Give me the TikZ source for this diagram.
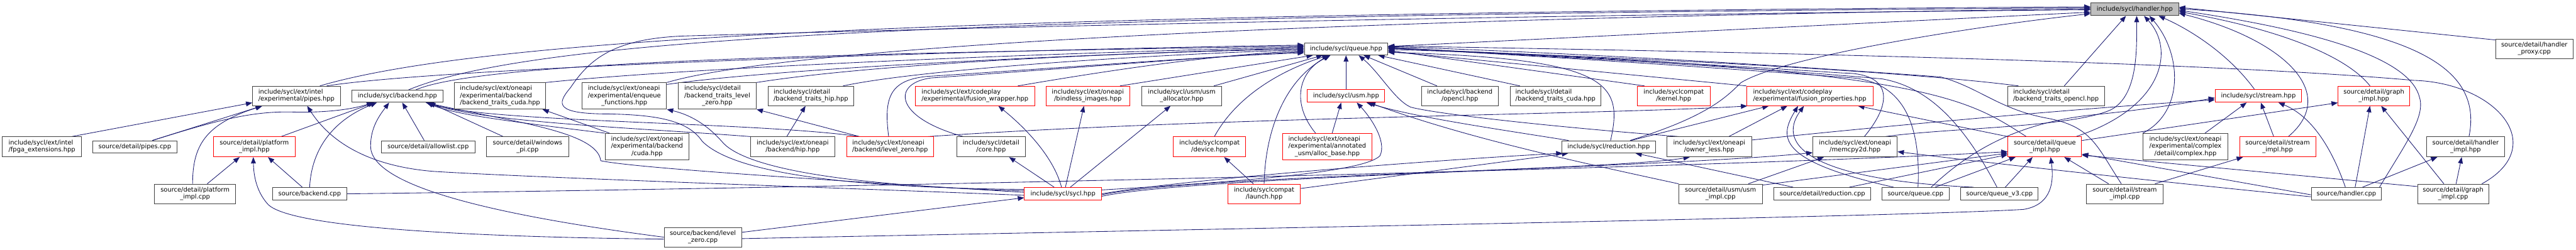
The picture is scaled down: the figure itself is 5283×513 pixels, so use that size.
\documentclass[tikz,border=0pt]{standalone}
\usepackage{fontspec}
\setmainfont{DejaVu Sans}
\usetikzlibrary{arrows.meta}
\definecolor{edgeblue}{HTML}{191970}
\definecolor{boxgray}{HTML}{BFBFBF}
\definecolor{boxline}{HTML}{404040}
\newcommand{\dxfont}{\fontsize{12.8}{15}\selectfont}
\newcommand{\twol}[2]{\begin{tabular}{@{}l@{}}#1\\\multicolumn{1}{@{}c@{}}{#2}\end{tabular}}
\newcommand{\threel}[3]{\begin{tabular}{@{}l@{}}#1\\#2\\\multicolumn{1}{@{}c@{}}{#3}\end{tabular}}
\pgfdeclarelayer{bglayer}
\pgfdeclarelayer{edgelayer}
\pgfsetlayers{bglayer,edgelayer,main}
\tikzset{
  nbox/.style={draw=boxline, line width=1.2pt, fill=white, inner sep=0pt, font=\dxfont, text=black},
  rbox/.style={nbox, draw=red},
  gbox/.style={nbox, fill=boxgray},
  wh/.style 2 args={minimum width=#1pt, minimum height=#2pt},
  e/.style={draw=edgeblue, line width=1.1pt, -{Triangle[length=13pt,width=10pt]}},
}
\begin{document}
\begin{tikzpicture}[x=1pt,y=-1pt]
\begin{pgfonlayer}{bglayer}
\fill[white] (0,0) rectangle (5283,513);
\end{pgfonlayer}
\useasboundingbox (0,0) rectangle (5283,513);
% top
\node[gbox, wh={180}{26}] (H) at (4378,19) {include/sycl/handler.hpp};
\node[nbox, wh={171}{25}] (Q) at (2760.5,100.5) {include/sycl/queue.hpp};
\node[nbox, wh={159}{40}] (hproxy) at (5197.5,100) {\twol{source/detail/handler}{\_proxy.cpp}};
% row 2
\node[nbox, wh={180}{40}] (pipes) at (608,197) {\twol{include/sycl/ext/intel}{/experimental/pipes.hpp}};
\node[nbox, wh={186}{25}] (backend) at (815,197.5) {include/sycl/backend.hpp};
\node[nbox, wh={187}{54}] (btcudaext) at (1025.5,197) {\threel{include/sycl/ext/oneapi}{/experimental/backend}{/backend\_traits\_cuda.hpp}};
\node[nbox, wh={173}{54}] (enqueue) at (1280.5,197) {\threel{include/sycl/ext/oneapi}{/experimental/enqueue}{\_functions.hpp}};
\node[nbox, wh={160}{54}] (btlz) at (1471,197) {\threel{include/sycl/detail}{/backend\_traits\_level}{\_zero.hpp}};
\node[nbox, wh={176}{40}] (bthip) at (1663,197) {\twol{include/sycl/detail}{/backend\_traits\_hip.hpp}};
\node[rbox, wh={245}{40}] (fwrap) at (1999.5,197) {\twol{include/sycl/ext/codeplay}{/experimental/fusion\_wrapper.hpp}};
\node[rbox, wh={172}{40}] (bindless) at (2231,197) {\twol{include/sycl/ext/oneapi}{/bindless\_images.hpp}};
\node[nbox, wh={163}{40}] (usmalloc) at (2423.5,197) {\twol{include/sycl/usm/usm}{\_allocator.hpp}};
\node[rbox, wh={159}{26}] (usm) at (2760.5,197) {include/sycl/usm.hpp};
\node[nbox, wh={158}{40}] (opencl) at (2994,197) {\twol{include/sycl/backend}{/opencl.hpp}};
\node[nbox, wh={186}{40}] (btcuda) at (3190,197) {\twol{include/sycl/detail}{/backend\_traits\_cuda.hpp}};
\node[rbox, wh={149}{40}] (kernel) at (3432.5,197) {\twol{include/syclcompat}{/kernel.hpp}};
\node[rbox, wh={259}{40}] (fprops) at (3711.5,197) {\twol{include/sycl/ext/codeplay}{/experimental/fusion\_properties.hpp}};
\node[nbox, wh={199}{40}] (btopencl) at (4216.5,197) {\twol{include/sycl/detail}{/backend\_traits\_opencl.hpp}};
\node[rbox, wh={177}{26}] (stream) at (4631.5,197) {include/sycl/stream.hpp};
\node[rbox, wh={147}{40}] (gimplh) at (4868.5,197) {\twol{source/detail/graph}{\_impl.hpp}};
% row 3
\node[nbox, wh={162}{41}] (fpga) at (86,301.5) {\twol{include/sycl/ext/intel}{/fpga\_extensions.hpp}};
\node[nbox, wh={173}{25}] (pipescpp) at (276.5,301.5) {source/detail/pipes.cpp};
\node[rbox, wh={167}{41}] (pimplh) at (521.5,301.5) {\twol{source/detail/platform}{\_impl.hpp}};
\node[nbox, wh={192}{25}] (allowlist) at (878,301.5) {source/detail/allowlist.cpp};
\node[nbox, wh={168}{41}] (winpi) at (1082,301.5) {\twol{source/detail/windows}{\_pi.cpp}};
\node[nbox, wh={172}{54}] (cuda) at (1327,301) {\threel{include/sycl/ext/oneapi}{/experimental/backend}{/cuda.hpp}};
\node[nbox, wh={173}{41}] (hip) at (1625.5,301.5) {\twol{include/sycl/ext/oneapi}{/backend/hip.hpp}};
\node[rbox, wh={179}{41}] (lzh) at (1825.5,301.5) {\twol{include/sycl/ext/oneapi}{/backend/level\_zero.hpp}};
\node[nbox, wh={141}{41}] (core) at (2032.5,301.5) {\twol{include/sycl/detail}{/core.hpp}};
\node[rbox, wh={149}{41}] (device) at (2480.5,301.5) {\twol{include/syclcompat}{/device.hpp}};
\node[rbox, wh={182}{54}] (allocbase) at (2722,301) {\threel{include/sycl/ext/oneapi}{/experimental/annotated}{\_usm/alloc\_base.hpp}};
\node[nbox, wh={192}{25}] (reduction) at (3299,301.5) {include/sycl/reduction.hpp};
\node[nbox, wh={173}{41}] (ownerless) at (3505.5,301.5) {\twol{include/sycl/ext/oneapi}{/owner\_less.hpp}};
\node[nbox, wh={173}{41}] (memcpy2d) at (3804.5,301.5) {\twol{include/sycl/ext/oneapi}{/memcpy2d.hpp}};
\node[rbox, wh={151}{41}] (qimpl) at (4193.5,301.5) {\twol{source/detail/queue}{\_impl.hpp}};
\node[nbox, wh={174}{54}] (complex) at (4482,301) {\threel{include/sycl/ext/oneapi}{/experimental/complex}{/detail/complex.hpp}};
\node[rbox, wh={156}{41}] (simplh) at (4671,301.5) {\twol{source/detail/stream}{\_impl.hpp}};
\node[nbox, wh={159}{41}] (himplh) at (5056.5,301.5) {\twol{source/detail/handler}{\_impl.hpp}};
% row 4
\node[nbox, wh={166}{40}] (pimplcpp) at (400,398) {\twol{source/detail/platform}{\_impl.cpp}};
\node[nbox, wh={152}{26}] (backendcpp) at (635,398) {source/backend.cpp};
\node[rbox, wh={158}{26}] (syclh) at (2180,398) {include/sycl/sycl.hpp};
\node[rbox, wh={149}{40}] (launch) at (2592.5,398) {\twol{include/syclcompat}{/launch.hpp}};
\node[nbox, wh={171}{40}] (usmimpl) at (3528.5,398) {\twol{source/detail/usm/usm}{\_impl.cpp}};
\node[nbox, wh={199}{26}] (redcpp) at (3737.5,398) {source/detail/reduction.cpp};
\node[nbox, wh={137}{26}] (queuecpp) at (3928.5,398) {source/queue.cpp};
\node[nbox, wh={159}{26}] (qv3) at (4100.5,398) {source/queue\_v3.cpp};
\node[nbox, wh={157}{40}] (simplcpp) at (4357.5,398) {\twol{source/detail/stream}{\_impl.cpp}};
\node[nbox, wh={144}{26}] (handlercpp) at (4812,398) {source/handler.cpp};
\node[nbox, wh={146}{40}] (gimplcpp) at (5031,398) {\twol{source/detail/graph}{\_impl.cpp}};
\node[nbox, wh={159}{40}] (lzcpp) at (1441.5,487) {\twol{source/backend/level}{\_zero.cpp}};

\begin{pgfonlayer}{edgelayer}
% ---- into handler.hpp
\draw[e] ([yshift=5pt]Q.east) -- ([yshift=-6pt]H.west);
\draw[e] ([xshift=48pt]pipes.north) .. controls (1000,75) and (2000,28) .. ([yshift=5pt]H.west);
\draw[e] ([xshift=23pt]backend.north) .. controls (1100,75) and (2000,32) .. ([yshift=3pt]H.west);
\draw[e] (enqueue.north east) .. controls (1600,100) and (2600,40) .. ([yshift=1pt]H.west);
\draw[e] ([yshift=9pt]syclh.west) .. controls (1700,385) and (1500,350) .. (1440,290) .. controls (1410,245) and (1340,236) .. (1250,234) .. controls (1140,234) and (1140,215) .. (1170,180) .. controls (1210,120) and (1260,80) .. (1400,74) .. controls (2500,42) and (3600,26) .. ([yshift=-1pt]H.west);
\draw[e] ([xshift=44pt]reduction.north) .. controls (3500,240) and (3540,200) .. (3570,170) .. controls (3650,120) and (4000,60) .. ([yshift=-9pt]H.west);
\draw[e] ([xshift=62pt]memcpy2d.north) .. controls (4000,262) and (4250,262) .. (4330,225) .. controls (4385,195) and (4382,100) .. ([xshift=4pt]H.south);
\draw[e] ([xshift=17pt]btopencl.north) -- ([xshift=-18pt]H.south);
\draw[e] ([xshift=64pt]qimpl.north) .. controls (4440,220) and (4460,100) .. ([xshift=19pt]H.south);
\draw[e] (complex.north west) .. controls (4480,230) and (4475,110) .. ([xshift=30pt]H.south);
\draw[e] ([xshift=-8pt]stream.north) .. controls (4570,110) and (4490,60) .. ([xshift=49pt]H.south);
\draw[e] ([xshift=22pt]simplh.north) .. controls (4800,190) and (4680,80) .. ([yshift=-8pt]H.east);
\draw[e] ([xshift=-8pt]gimplh.north) .. controls (4800,100) and (4620,50) .. ([yshift=-5pt]H.east);
\draw[e] ([xshift=68pt]handlercpp.north) .. controls (4930,300) and (4975,240) .. (4962,200) .. controls (4945,130) and (4800,70) .. ([yshift=-2pt]H.east);
\draw[e] ([xshift=7pt]himplh.north) .. controls (5090,150) and (4980,50) .. ([yshift=1pt]H.east);
\draw[e] ([yshift=18pt]hproxy.west) -- ([yshift=4pt]H.east);
% ---- into queue.hpp
\draw[e] ([xshift=62pt]pipes.north) .. controls (900,140) and (1900,105) .. ([yshift=8pt]Q.west);
\draw[e] ([xshift=38pt]backend.north) .. controls (1000,120) and (1900,108) .. ([yshift=6pt]Q.west);
\draw[e] (btcudaext.north east) .. controls (1400,140) and (2100,110) .. ([yshift=4pt]Q.west);
\draw[e] ([yshift=-4pt]enqueue.north east) .. controls (1600,140) and (2200,112) .. ([yshift=2pt]Q.west);
\draw[e] (btlz.north east) .. controls (1800,130) and (2300,108) .. (Q.west);
\draw[e] ([xshift=66pt]bthip.north) .. controls (1900,140) and (2400,110) .. ([yshift=-2pt]Q.west);
\draw[e] ([xshift=88pt]fwrap.north) .. controls (2300,140) and (2500,112) .. ([yshift=-4pt]Q.west);
\draw[e] ([xshift=-57pt]core.north) .. controls (1830,240) and (1830,170) .. (1910,160) .. controls (2200,140) and (2500,115) .. ([yshift=-6pt]Q.west);
\draw[e] ([xshift=-3pt]lzh.north) .. controls (1812,200) and (1825,165) .. (1900,157) .. controls (2200,138) and (2500,114) .. ([yshift=-8pt]Q.west);
\draw[e] ([xshift=66pt]bindless.north) -- ([xshift=-68pt]Q.south);
\draw[e] ([xshift=66pt]usmalloc.north) -- ([xshift=-48pt]Q.south);
\draw[e] (usm) -- (Q);
\draw[e] ([xshift=-24pt]allocbase.north) .. controls (2650,215) and (2660,150) .. ([xshift=-34pt]Q.south);
\draw[e] ([xshift=10pt]device.north) .. controls (2540,190) and (2640,140) .. ([xshift=-36pt]Q.south);
\draw[e] (launch.north) .. controls (2595,260) and (2640,160) .. ([xshift=-32pt]Q.south);
\draw[e] ([xshift=-47pt]opencl.north) -- ([xshift=36pt]Q.south);
\draw[e] ([xshift=-73pt]btcuda.north) -- ([xshift=66pt]Q.south);
\draw[e] ([xshift=-62pt]ownerless.north) .. controls (3200,262) and (2950,235) .. (2893,220) .. controls (2860,205) and (2830,150) .. ([xshift=26pt]Q.south);
\draw[e] ([xshift=-60pt]kernel.north) -- ([yshift=-3pt]Q.east);
\draw[e] (fprops.north west) -- ([yshift=-5pt]Q.east);
\draw[e] ([xshift=-77pt]btopencl.north) .. controls (3900,145) and (3300,115) .. ([yshift=-1pt]Q.east);
\draw[e] ([xshift=-38pt]qimpl.north) .. controls (4030,200) and (3950,140) .. ([yshift=1pt]Q.east);
\draw[e] ([xshift=5pt]queuecpp.north) .. controls (3940,250) and (3900,170) .. (3800,160) .. controls (3400,130) and (3000,106) .. ([yshift=2pt]Q.east);
\draw[e] ([xshift=19pt]memcpy2d.north) .. controls (3890,200) and (3870,150) .. (3780,150) .. controls (3400,125) and (3000,106) .. ([yshift=3pt]Q.east);
\draw[e] ([xshift=-5pt]qv3.north) .. controls (4030,260) and (3960,180) .. (3860,162) .. controls (3500,130) and (3000,108) .. ([yshift=4pt]Q.east);
\draw[e] ([xshift=-7pt]simplcpp.north) .. controls (4300,300) and (4290,260) .. (4200,243) .. controls (4100,225) and (4060,180) .. (3980,158) .. controls (3600,130) and (3200,108) .. ([yshift=5pt]Q.east);
\draw[e] ([xshift=59pt]gimplcpp.north) .. controls (5230,300) and (5120,170) .. (4950,165) .. controls (4500,125) and (3500,105) .. ([yshift=6pt]Q.east);
\draw[e] ([xshift=4pt]reduction.north) .. controls (3330,170) and (3300,120) .. ([yshift=-7pt]Q.east);
% ---- into backend.hpp
\draw[e] ([xshift=55pt]pimplh.north) -- ([xshift=-47pt]backend.south);
\draw[e] (backendcpp.north) .. controls (640,290) and (700,240) .. ([xshift=-42pt]backend.south);
\draw[e] ([xshift=-8pt]allowlist.north) -- ([xshift=10pt]backend.south);
\draw[e] (lzcpp.west) .. controls (1000,440) and (760,380) .. (760,300) .. controls (760,260) and (780,235) .. ([xshift=-17pt]backend.south);
\draw[e] ([xshift=-50pt]winpi.north) -- ([xshift=65pt]backend.south);
\draw[e] (cuda.north west) .. controls (1050,250) and (930,235) .. ([xshift=60pt]backend.south);
\draw[e] ([xshift=-63pt]lzh.north) .. controls (1550,250) and (1000,252) .. ([xshift=60pt]backend.south);
\draw[e] (hip.north west) .. controls (1300,262) and (1000,252) .. ([xshift=62pt]backend.south);
\draw[e] ([yshift=3pt]syclh.west) .. controls (1700,370) and (1300,345) .. (1232,330) .. controls (1225,270) and (1050,250) .. ([xshift=58pt]backend.south);
\draw[e] ([xshift=36pt]pipescpp.north) .. controls (450,245) and (520,228) .. (600,230) .. controls (680,232) and (730,222) .. ([xshift=-50pt]backend.south);
% ---- into pipes.hpp
\draw[e] ([yshift=-3pt]syclh.west) .. controls (1700,385) and (1100,365) .. (890,352) .. controls (740,340) and (670,280) .. ([xshift=22pt]pipes.south);
\draw[e] ([xshift=36pt]pipescpp.north) -- ([xshift=-71pt]pipes.south);
\draw[e] ([xshift=-5pt]pimplcpp.north) .. controls (395,300) and (420,255) .. ([xshift=-70pt]pipes.south);
\draw[e] ([xshift=61pt]fpga.north) -- ([yshift=-14pt]pipes.west);
% ---- platform_impl.hpp
\draw[e] ([xshift=25pt]pimplcpp.north) -- ([xshift=-30pt]pimplh.south);
\draw[e] ([xshift=-15pt]backendcpp.north) -- ([xshift=28pt]pimplh.south);
\draw[e] ([yshift=-4pt]lzcpp.west) .. controls (1000,487) and (600,470) .. (550,420) .. controls (522,390) and (520,350) .. ([xshift=-2pt]pimplh.south);
% ---- level_zero.cpp others
\draw[e] ([yshift=10pt]lzcpp.east) -- ([yshift=-8pt]syclh.west);
\draw[e] ([yshift=-3pt]lzcpp.east) .. controls (2500,470) and (3900,445) .. (4150,430) .. controls (4210,420) and (4212,370) .. ([xshift=12pt]qimpl.south);
\draw[e] (backendcpp.east) .. controls (1800,385) and (3500,345) .. ([yshift=-10pt]qimpl.west);
% ---- backend traits
\draw[e] ([xshift=-77pt]cuda.north) -- ([xshift=87pt]btcudaext.south);
\draw[e] ([xshift=-63pt]lzh.north) -- (btlz.south east);
\draw[e] ([xshift=-12pt]hip.north) -- ([xshift=-11pt]bthip.south);
% ---- from sycl.hpp
\draw[e] ([yshift=6pt]syclh.west) .. controls (1700,380) and (1520,340) .. (1480,290) .. controls (1440,245) and (1400,232) .. (enqueue.south east);
\draw[e] ([xshift=-3pt]syclh.north) .. controls (2160,320) and (2100,260) .. ([xshift=48pt]fwrap.south);
\draw[e] ([xshift=-18pt]syclh.north) -- ([xshift=37pt]core.south);
\draw[e] ([xshift=5pt]syclh.north) -- ([xshift=-8pt]bindless.south);
\draw[e] ([xshift=15pt]syclh.north) -- ([xshift=-23pt]usmalloc.south);
\draw[e] ([yshift=8pt]syclh.east) .. controls (2600,370) and (2800,350) .. (2830,320) .. controls (2845,290) and (2810,240) .. ([xshift=22pt]usm.south);
\draw[e] (syclh.east) .. controls (2450,365) and (3000,325) .. ([xshift=2pt]reduction.south west);
\draw[e] ([yshift=-2pt]syclh.east) .. controls (2450,360) and (3300,350) .. ([xshift=-40pt]ownerless.south);
\draw[e] ([yshift=-5pt]syclh.east) .. controls (2450,362) and (3400,345) .. ([yshift=-12pt]memcpy2d.west);
\draw[e] ([yshift=11pt]launch.east) -- ([xshift=14pt]reduction.south west);
\draw[e] ([xshift=-22pt]launch.north) -- ([xshift=30pt]device.south);
\draw[e] ([xshift=10pt]allocbase.north) -- ([xshift=-10pt]usm.south);
% ---- reduction, usm, memcpy2d, fusion_properties
\draw[e] ([xshift=-60pt]redcpp.north) -- ([xshift=55pt]reduction.south);
\draw[e] ([xshift=55pt]redcpp.north) -- ([yshift=-16pt]qimpl.west);
\draw[e] ([xshift=57pt]usmimpl.north) -- ([xshift=-64pt]memcpy2d.south);
\draw[e] ([yshift=18pt]usmimpl.east) -- ([yshift=-13pt]qimpl.west);
\draw[e] (usmimpl.north west) .. controls (3200,325) and (3000,280) .. ([xshift=47pt]usm.south);
\draw[e] ([xshift=-82pt]reduction.north) .. controls (3050,262) and (2900,240) .. ([xshift=42pt]usm.south);
\draw[e] ([xshift=46pt]reduction.north) -- ([xshift=-84pt]fprops.south);
\draw[e] ([xshift=40pt]ownerless.north) -- ([xshift=-46pt]fprops.south);
\draw[e] ([yshift=14pt]ownerless.east) .. controls (3900,255) and (4300,220) .. ([yshift=-8pt]stream.west);
\draw[e] ([xshift=78pt]lzh.north) .. controls (2500,240) and (3300,235) .. ([xshift=2pt]fprops.south west);
\draw[e] ([xshift=-45pt]queuecpp.north) .. controls (3640,330) and (3650,280) .. ([xshift=-24pt]fprops.south);
\draw[e] ([xshift=-53pt]qv3.north) .. controls (3720,370) and (3640,300) .. ([xshift=-12pt]fprops.south);
\draw[e] (qimpl.north west) -- ([xshift=99pt]fprops.south);
% ---- queue_impl.hpp and right part
\draw[e] ([xshift=40pt]queuecpp.north) -- ([xshift=-60pt]qimpl.south);
\draw[e] ([xshift=12pt]qv3.north) -- ([xshift=-25pt]qimpl.south);
\draw[e] ([xshift=-33pt]simplcpp.north) -- ([xshift=40pt]qimpl.south);
\draw[e] ([xshift=62pt]simplcpp.north) -- ([xshift=-71pt]simplh.south);
\draw[e] ([yshift=13pt]qimpl.east) -- ([yshift=-14pt]gimplh.west);
\draw[e] ([yshift=-2pt]handlercpp.west) -- ([yshift=-15pt]qimpl.east);
\draw[e] ([yshift=15pt]gimplcpp.west) -- ([yshift=-17pt]qimpl.east);
\draw[e] ([xshift=-2pt]handlercpp.north) .. controls (4770,270) and (4720,230) .. ([xshift=41pt]stream.south);
\draw[e] ([xshift=18pt]handlercpp.north) -- ([xshift=-8pt]gimplh.south);
\draw[e] ([xshift=33pt]handlercpp.north) -- ([xshift=-58pt]himplh.south);
\draw[e] ([xshift=-19pt]gimplcpp.north) -- ([xshift=15pt]gimplh.south);
\draw[e] ([xshift=6pt]gimplcpp.north) -- ([xshift=-8pt]himplh.south);
\draw[e] ([xshift=40pt]complex.north) -- ([xshift=-24pt]stream.south);
\draw[e] ([xshift=-8pt]simplh.north) -- ([xshift=5pt]stream.south);
\draw[e] ([yshift=-6pt]handlercpp.west) .. controls (4300,360) and (4000,325) .. ([yshift=-10pt]memcpy2d.east);
\draw[e] ([xshift=32pt]queuecpp.north) .. controls (4050,300) and (4150,250) .. (4300,235) .. controls (4400,225) and (4480,212) .. ([yshift=-4pt]stream.west);
\end{pgfonlayer}
\end{tikzpicture}
\end{document}
